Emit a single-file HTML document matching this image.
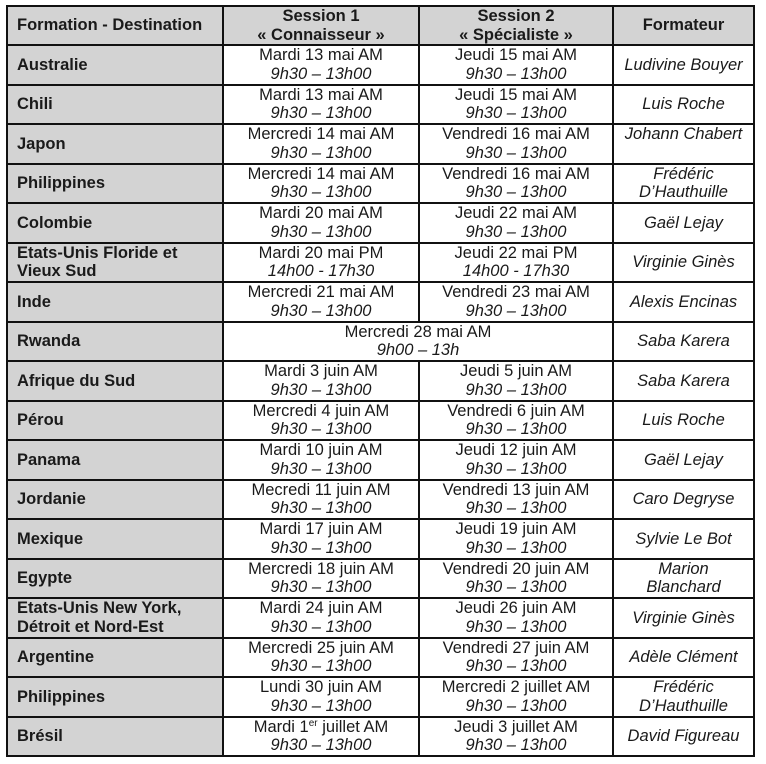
<!DOCTYPE html>
<html><head><meta charset="utf-8"><style>
*{margin:0;padding:0;box-sizing:border-box}
body{width:766px;height:764px;background:#fff;position:relative;overflow:hidden;font-family:"Liberation Sans",Arial,sans-serif;font-size:16.5px;line-height:18.5px;color:#1a1a1a}
.g{position:absolute;background:#d3d3d3}
.h{position:absolute;left:6px;width:749px;height:2px;background:#111}
.v{position:absolute;width:2px;background:#111}
.r{position:absolute;left:0;width:766px;height:39.5px}
.c{position:absolute;top:0;height:39.5px;display:flex;align-items:center;justify-content:center;text-align:center;white-space:nowrap}
.c>div{display:block}
.c0{left:8px;width:215px;justify-content:flex-start;text-align:left;padding-left:9px;font-weight:bold}
.c1{left:223px;width:196px}
.c2{left:419px;width:194px}
.c12{left:223px;width:390px}
.c3{left:613px;width:141px;font-style:italic}
.top{align-items:flex-start;padding-top:1.25px}
i{font-style:italic}
sup{font-size:10px;line-height:0;vertical-align:6px}
.hd .c{font-weight:bold;height:39px}
</style></head><body>
<div class="g" style="left:7px;top:6px;width:747px;height:39px"></div>
<div class="g" style="left:7px;top:45px;width:216px;height:711px"></div>

<div class="r hd" style="top:6px">
<div class="c c0"><div>Formation - Destination</div></div>
<div class="c c1"><div>Session 1<br>« Connaisseur »</div></div>
<div class="c c2"><div>Session 2<br>« Spécialiste »</div></div>
<div class="c c3" style="font-style:normal"><div>Formateur</div></div>
</div>

<div class="r" style="top:45px"><div class="c c0"><div>Australie</div></div><div class="c c1"><div>Mardi 13 mai AM<br><i>9h30 – 13h00</i></div></div><div class="c c2"><div>Jeudi 15 mai AM<br><i>9h30 – 13h00</i></div></div><div class="c c3"><div>Ludivine Bouyer</div></div></div>
<div class="r" style="top:84.5px"><div class="c c0"><div>Chili</div></div><div class="c c1"><div>Mardi 13 mai AM<br><i>9h30 – 13h00</i></div></div><div class="c c2"><div>Jeudi 15 mai AM<br><i>9h30 – 13h00</i></div></div><div class="c c3"><div>Luis Roche</div></div></div>
<div class="r" style="top:124px"><div class="c c0"><div>Japon</div></div><div class="c c1"><div>Mercredi 14 mai AM<br><i>9h30 – 13h00</i></div></div><div class="c c2"><div>Vendredi 16 mai AM<br><i>9h30 – 13h00</i></div></div><div class="c c3 top"><div>Johann Chabert</div></div></div>
<div class="r" style="top:163.5px"><div class="c c0"><div>Philippines</div></div><div class="c c1"><div>Mercredi 14 mai AM<br><i>9h30 – 13h00</i></div></div><div class="c c2"><div>Vendredi 16 mai AM<br><i>9h30 – 13h00</i></div></div><div class="c c3"><div>Frédéric<br>D’Hauthuille</div></div></div>
<div class="r" style="top:203px"><div class="c c0"><div>Colombie</div></div><div class="c c1"><div>Mardi 20 mai AM<br><i>9h30 – 13h00</i></div></div><div class="c c2"><div>Jeudi 22 mai AM<br><i>9h30 – 13h00</i></div></div><div class="c c3"><div>Gaël Lejay</div></div></div>
<div class="r" style="top:242.5px"><div class="c c0"><div>Etats-Unis Floride et<br>Vieux Sud</div></div><div class="c c1"><div>Mardi 20 mai PM<br><i>14h00 - 17h30</i></div></div><div class="c c2"><div>Jeudi 22 mai PM<br><i>14h00 - 17h30</i></div></div><div class="c c3"><div>Virginie Ginès</div></div></div>
<div class="r" style="top:282px"><div class="c c0"><div>Inde</div></div><div class="c c1"><div>Mercredi 21 mai AM<br><i>9h30 – 13h00</i></div></div><div class="c c2"><div>Vendredi 23 mai AM<br><i>9h30 – 13h00</i></div></div><div class="c c3"><div>Alexis Encinas</div></div></div>
<div class="r" style="top:321.5px"><div class="c c0"><div>Rwanda</div></div><div class="c c12"><div>Mercredi 28 mai AM<br><i>9h00 – 13h</i></div></div><div class="c c3"><div>Saba Karera</div></div></div>
<div class="r" style="top:361px"><div class="c c0"><div>Afrique du Sud</div></div><div class="c c1"><div>Mardi 3 juin AM<br><i>9h30 – 13h00</i></div></div><div class="c c2"><div>Jeudi 5 juin AM<br><i>9h30 – 13h00</i></div></div><div class="c c3"><div>Saba Karera</div></div></div>
<div class="r" style="top:400.5px"><div class="c c0"><div>Pérou</div></div><div class="c c1"><div>Mercredi 4 juin AM<br><i>9h30 – 13h00</i></div></div><div class="c c2"><div>Vendredi 6 juin AM<br><i>9h30 – 13h00</i></div></div><div class="c c3"><div>Luis Roche</div></div></div>
<div class="r" style="top:440px"><div class="c c0"><div>Panama</div></div><div class="c c1"><div>Mardi 10 juin AM<br><i>9h30 – 13h00</i></div></div><div class="c c2"><div>Jeudi 12 juin AM<br><i>9h30 – 13h00</i></div></div><div class="c c3"><div>Gaël Lejay</div></div></div>
<div class="r" style="top:479.5px"><div class="c c0"><div>Jordanie</div></div><div class="c c1"><div>Mecredi 11 juin AM<br><i>9h30 – 13h00</i></div></div><div class="c c2"><div>Vendredi 13 juin AM<br><i>9h30 – 13h00</i></div></div><div class="c c3"><div>Caro Degryse</div></div></div>
<div class="r" style="top:519px"><div class="c c0"><div>Mexique</div></div><div class="c c1"><div>Mardi 17 juin AM<br><i>9h30 – 13h00</i></div></div><div class="c c2"><div>Jeudi 19 juin AM<br><i>9h30 – 13h00</i></div></div><div class="c c3"><div>Sylvie Le Bot</div></div></div>
<div class="r" style="top:558.5px"><div class="c c0"><div>Egypte</div></div><div class="c c1"><div>Mercredi 18 juin AM<br><i>9h30 – 13h00</i></div></div><div class="c c2"><div>Vendredi 20 juin AM<br><i>9h30 – 13h00</i></div></div><div class="c c3"><div>Marion<br>Blanchard</div></div></div>
<div class="r" style="top:598px"><div class="c c0"><div>Etats-Unis New York,<br>Détroit et Nord-Est</div></div><div class="c c1"><div>Mardi 24 juin AM<br><i>9h30 – 13h00</i></div></div><div class="c c2"><div>Jeudi 26 juin AM<br><i>9h30 – 13h00</i></div></div><div class="c c3"><div>Virginie Ginès</div></div></div>
<div class="r" style="top:637.5px"><div class="c c0"><div>Argentine</div></div><div class="c c1"><div>Mercredi 25 juin AM<br><i>9h30 – 13h00</i></div></div><div class="c c2"><div>Vendredi 27 juin AM<br><i>9h30 – 13h00</i></div></div><div class="c c3"><div>Adèle Clément</div></div></div>
<div class="r" style="top:677px"><div class="c c0"><div>Philippines</div></div><div class="c c1"><div>Lundi 30 juin AM<br><i>9h30 – 13h00</i></div></div><div class="c c2"><div>Mercredi 2 juillet AM<br><i>9h30 – 13h00</i></div></div><div class="c c3"><div>Frédéric<br>D’Hauthuille</div></div></div>
<div class="r" style="top:716.5px"><div class="c c0"><div>Brésil</div></div><div class="c c1"><div>Mardi 1<sup>er</sup> juillet AM<br><i>9h30 – 13h00</i></div></div><div class="c c2"><div>Jeudi 3 juillet AM<br><i>9h30 – 13h00</i></div></div><div class="c c3"><div>David Figureau</div></div></div>

<!-- horizontal lines -->
<div class="h" style="top:5px"></div>
<div class="h" style="top:44px"></div>
<div class="h" style="top:83.5px"></div>
<div class="h" style="top:123px"></div>
<div class="h" style="top:162.5px"></div>
<div class="h" style="top:202px"></div>
<div class="h" style="top:241.5px"></div>
<div class="h" style="top:281px"></div>
<div class="h" style="top:320.5px"></div>
<div class="h" style="top:360px"></div>
<div class="h" style="top:399.5px"></div>
<div class="h" style="top:439px"></div>
<div class="h" style="top:478.5px"></div>
<div class="h" style="top:518px"></div>
<div class="h" style="top:557.5px"></div>
<div class="h" style="top:597px"></div>
<div class="h" style="top:636.5px"></div>
<div class="h" style="top:676px"></div>
<div class="h" style="top:715.5px"></div>
<div class="h" style="top:755px"></div>

<!-- vertical lines -->
<div class="v" style="left:6px;top:5px;height:752px"></div>
<div class="v" style="left:222px;top:5px;height:752px"></div>
<div class="v" style="left:418px;top:5px;height:317px"></div>
<div class="v" style="left:418px;top:360px;height:397px"></div>
<div class="v" style="left:612px;top:5px;height:752px"></div>
<div class="v" style="left:753px;top:5px;height:752px"></div>
</body></html>
